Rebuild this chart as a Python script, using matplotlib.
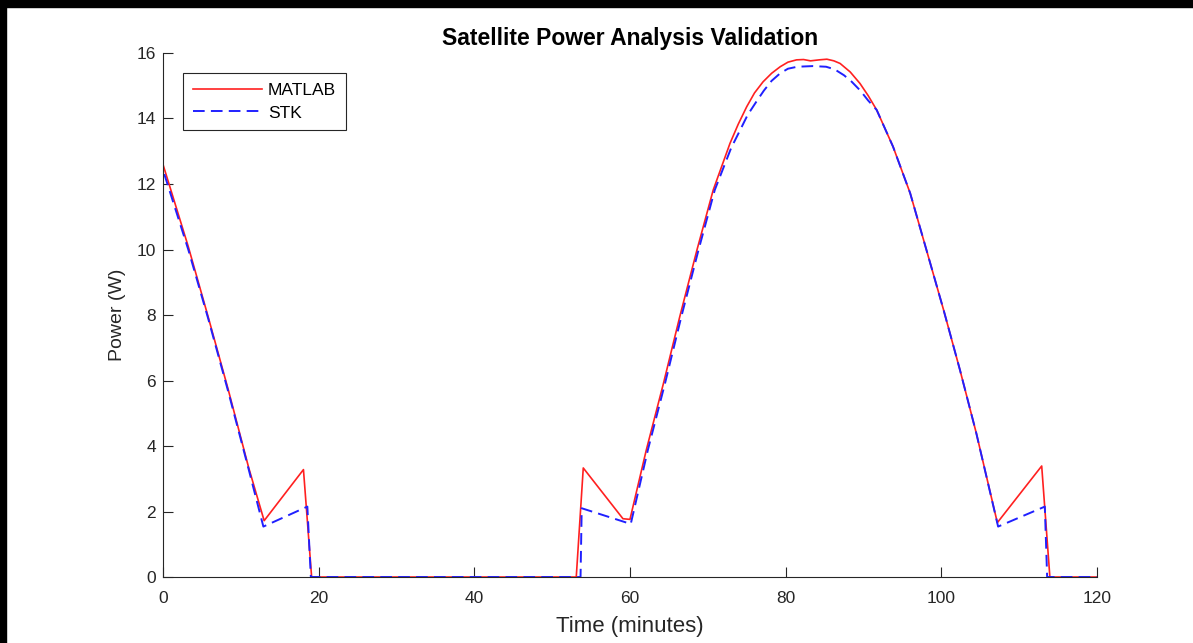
import matplotlib
matplotlib.use("Agg")
import matplotlib.pyplot as plt
from matplotlib.patches import Rectangle

# MATLAB model (red, solid)
matlab_time = [0, 3.25, 5.8, 8.4, 11.0, 13.0, 18.05, 19.1, 53.1, 54.0, 59.1, 60.0,
               62.1, 64.3, 66.4, 68.6, 70.7, 72.85, 73.9, 75.0, 76.0, 77.1, 78.2,
               79.3, 80.3, 81.4, 82.3, 83.2, 84.3, 85.3, 86.2, 87.0, 88.3, 89.55,
               90.6, 91.7, 93.8, 96.0, 98.1, 100.3, 102.4, 104.5, 107.2, 112.9,
               113.95, 120]
matlab_power = [12.6, 10.09, 7.95, 5.71, 3.35, 1.72, 3.28, 0, 0, 3.33, 1.78, 1.76,
                3.88, 5.91, 7.95, 9.98, 11.82, 13.24, 13.82, 14.36, 14.78, 15.12, 15.38,
                15.58, 15.72, 15.79, 15.8, 15.76, 15.79, 15.81, 15.76, 15.68, 15.42, 15.07,
                14.7, 14.26, 13.14, 11.72, 9.98, 8.15, 6.32, 4.39, 1.66, 3.39,
                0, 0]

# STK reference (blue, dashed)
stk_time = [0, 0, 3.25, 5.8, 8.4, 11.0, 12.9, 18.55, 19.0, 53.65, 53.8, 60.1,
            62.3, 64.5, 66.6, 68.8, 70.9, 73.0, 74.1, 75.1, 76.2, 77.2, 78.2,
            79.3, 80.3, 81.5, 83.5, 85.2, 86.3, 87.5, 88.5, 89.6, 90.6, 91.7,
            93.8, 96.0, 98.1, 100.3, 102.4, 104.5, 107.3, 113.3, 113.6, 120]
stk_power = [0, 12.43, 10.0, 7.9, 5.65, 3.3, 1.54, 2.15, 0, 0, 2.1, 1.62,
             3.88, 5.91, 7.95, 9.98, 11.82, 13.1, 13.62, 14.1, 14.5, 14.85, 15.15,
             15.38, 15.52, 15.58, 15.6, 15.58, 15.5, 15.32, 15.12, 14.85, 14.55, 14.26,
             13.14, 11.72, 9.98, 8.15, 6.32, 4.39, 1.54, 2.15, 0, 0]

x_ticks = [0, 20, 40, 60, 80, 100, 120]
y_ticks = [0, 2, 4, 6, 8, 10, 12, 14, 16]

plt.rcParams["font.family"] = ["Liberation Sans", "DejaVu Sans"]
axis_grey = "#262626"

fig = plt.figure(figsize=(11.93, 6.43), dpi=100, facecolor="white")
ax = fig.add_axes([0.1366, 0.1026, 0.7829, 0.815])

ax.plot(matlab_time, matlab_power, color="#ff2020", lw=1.2, label="MATLAB")
ax.plot(stk_time, stk_power, color="#2020ff", lw=1.4, dashes=(6, 3.2), label="STK")

ax.set_xlim(0, 120)
ax.set_ylim(0, 16)
ax.set_xticks(x_ticks)
ax.set_yticks(y_ticks)
for side in ("top", "right"):
    ax.spines[side].set_visible(False)
for side in ("left", "bottom"):
    ax.spines[side].set_color(axis_grey)
    ax.spines[side].set_linewidth(0.8)
ax.tick_params(direction="in", length=7, width=0.8, colors=axis_grey,
               labelsize=12.5, pad=5)
ax.tick_params(axis="x", pad=10)

ax.set_xlabel("Time (minutes)", fontsize=16, color=axis_grey, labelpad=7)
ax.set_ylabel("Power (W)", fontsize=14, color=axis_grey, labelpad=8)
ax.set_title("Satellite Power Analysis Validation", fontsize=16.5,
             fontweight="bold", color="black", pad=6)

leg = ax.legend(loc="upper left", bbox_to_anchor=(0.0215, 0.962), fontsize=12.5,
                handlelength=4.0, fancybox=False, framealpha=1,
                borderpad=0.55, labelspacing=0.45, handletextpad=0.35,
                borderaxespad=0)
leg.get_frame().set_edgecolor(axis_grey)
leg.get_frame().set_linewidth(0.8)

# black borders around the captured screenshot
fig.patches.append(Rectangle((0, 1 - 7 / 643), 1, 7 / 643, transform=fig.transFigure,
                             color="black", zorder=10))
fig.patches.append(Rectangle((0, 0), 6 / 1193, 1, transform=fig.transFigure,
                             color="black", zorder=10))

fig.savefig("out.png", dpi=100, facecolor="white")
